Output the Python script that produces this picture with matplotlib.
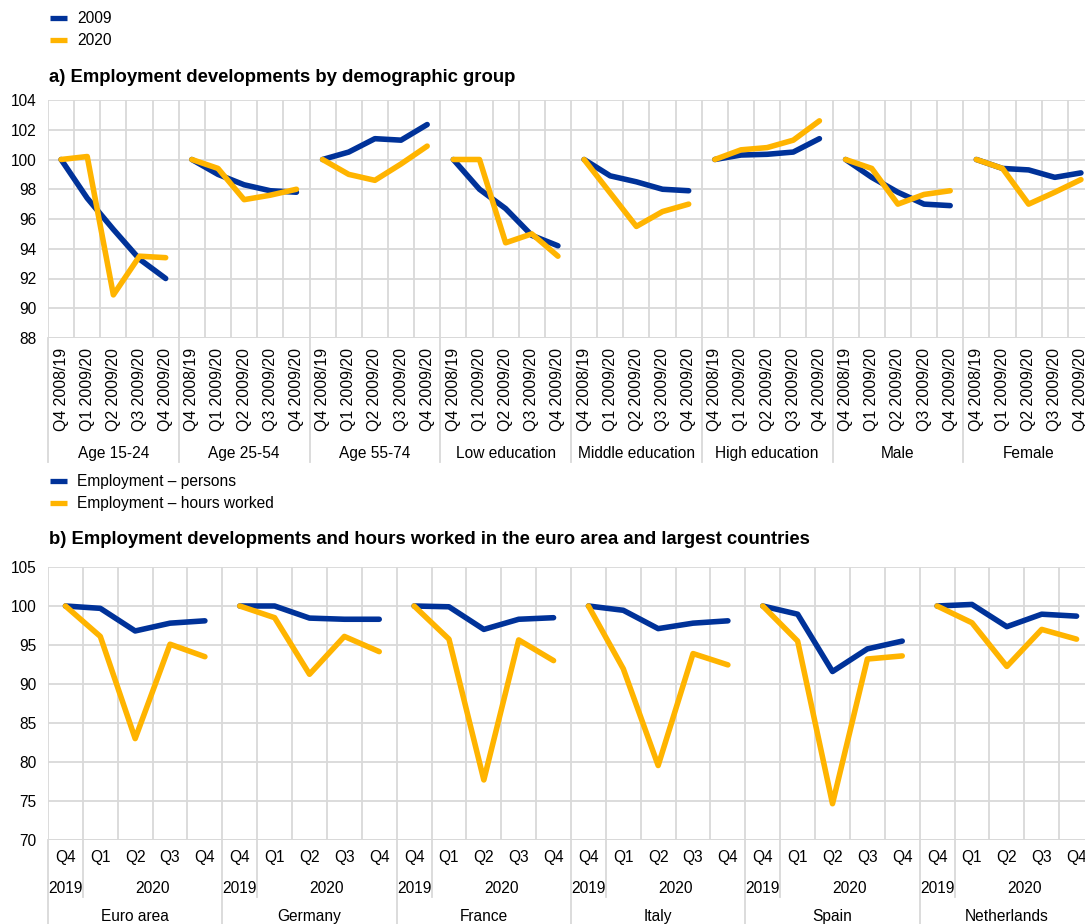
import numpy as np
import matplotlib
matplotlib.use("Agg")
import matplotlib.pyplot as plt
from matplotlib.lines import Line2D

plt.rcParams['font.family'] = ['Liberation Sans', 'DejaVu Sans']

# ---------------- data ----------------
groups_a = ["Age 15-24", "Age 25-54", "Age 55-74", "Low education",
            "Middle education", "High education", "Male", "Female"]
ticks_a = ["Q4 2008/19", "Q1 2009/20", "Q2 2009/20", "Q3 2009/20", "Q4 2009/20"]
a_2009 = [
    [100, 97.4, 95.3, 93.3, 92.0],
    [100, 99.0, 98.3, 97.9, 97.8],
    [100, 100.5, 101.4, 101.3, 102.35],
    [100, 98.0, 96.7, 94.9, 94.2],
    [100, 98.9, 98.5, 98.0, 97.9],
    [100, 100.3, 100.35, 100.5, 101.4],
    [100, 98.8, 97.8, 97.0, 96.9],
    [100, 99.4, 99.3, 98.8, 99.1],
]
a_2020 = [
    [100, 100.2, 90.9, 93.5, 93.4],
    [100, 99.4, 97.3, 97.6, 98.0],
    [100, 99.0, 98.6, 99.7, 100.9],
    [100, 100.0, 94.4, 95.0, 93.5],
    [100, 97.75, 95.5, 96.5, 97.0],
    [100, 100.65, 100.8, 101.3, 102.6],
    [100, 99.4, 97.0, 97.65, 97.9],
    [100, 99.4, 97.0, 97.8, 98.65],
]

countries_b = ["Euro area", "Germany", "France", "Italy", "Spain", "Netherlands"]
quarters_b = ["Q4", "Q1", "Q2", "Q3", "Q4"]
years_b = ["2019", "2020"]
b_persons = [
    [100, 99.7, 96.8, 97.8, 98.1],
    [100, 100.0, 98.45, 98.3, 98.3],
    [100, 99.9, 97.0, 98.3, 98.5],
    [100, 99.45, 97.1, 97.8, 98.1],
    [100, 98.95, 91.6, 94.5, 95.5],
    [100, 100.2, 97.35, 98.95, 98.7],
]
b_hours = [
    [100, 96.1, 83.0, 95.1, 93.5],
    [100, 98.5, 91.25, 96.1, 94.15],
    [100, 95.75, 77.7, 95.65, 93.0],
    [100, 91.95, 79.55, 93.9, 92.45],
    [100, 95.5, 74.65, 93.2, 93.6],
    [100, 97.85, 92.25, 97.0, 95.75],
]

BLUE = "#003299"
YELLOW = "#FFB400"
GRID = "#D9D9D9"
FS = 11.2
FS_ROT = 11.4
FS_TITLE = 13.3
LW = 4.0

W, H = 1085, 924
fig = plt.figure(figsize=(W / 100, H / 100), dpi=100)


def fx(px):
    return px / W


def fy(px):
    return 1 - px / H


LEFT, RIGHT = 48, 1094


def make_axes(top, bottom):
    ax = fig.add_axes([fx(LEFT), fy(bottom), fx(RIGHT - LEFT), (bottom - top) / H])
    for s in ax.spines.values():
        s.set_visible(False)
    return ax


def style(ax, n, ylim, yticks):
    ax.set_xlim(-0.5, n - 0.5)
    ax.set_ylim(*ylim)
    ax.set_yticks(yticks)
    ax.set_yticklabels([str(v) for v in yticks], fontsize=FS)
    ax.tick_params(axis='y', length=0, pad=8.5)
    ax.set_xticks(np.arange(n - 1) + 0.5, minor=True)
    ax.grid(True, which='major', axis='y', color=GRID, lw=1.3)
    ax.grid(True, which='minor', axis='x', color=GRID, lw=1.3)
    ax.tick_params(axis='x', which='both', length=0)
    ax.axvline(-0.5, color=GRID, lw=1.3)
    ax.axhline(ylim[0], color=GRID, lw=1.3)
    ax.set_axisbelow(True)


def seps(ax, xs, depth_px, hpx):
    for x in xs:
        ax.plot([x, x], [0, -depth_px / hpx], color=GRID, lw=1.3,
                transform=ax.get_xaxis_transform(), clip_on=False)


def legend(labels, top_px):
    hs = [Line2D([], [], color=BLUE, lw=3.8, solid_capstyle='butt'),
          Line2D([], [], color=YELLOW, lw=3.8, solid_capstyle='butt')]
    fig.legend(hs, labels, loc='upper left', bbox_to_anchor=(fx(50), fy(top_px)),
               frameon=False, fontsize=FS, handlelength=1.09, handletextpad=0.64,
               labelspacing=0.45, borderaxespad=0, borderpad=0)


# ---------------- legend / title a ----------------
legend(["2009", "2020"], 11)
fig.text(fx(49), fy(77), "a) Employment developments by demographic group",
         fontsize=FS_TITLE, fontweight='bold', va='center', ha='left')

# ---------------- panel a ----------------
topA, botA = 100, 338
hA_px = botA - topA
axA = make_axes(topA, botA)
nA = len(groups_a) * 5
style(axA, nA, (88, 104), list(range(88, 105, 2)))
for g in range(len(groups_a)):
    xs = np.arange(5) + g * 5
    axA.plot(xs, a_2009[g], color=BLUE, lw=LW, solid_capstyle='round',
             solid_joinstyle='round', zorder=3)
    axA.plot(xs, a_2020[g], color=YELLOW, lw=LW, solid_capstyle='round',
             solid_joinstyle='round', zorder=4)
axA.set_xticks(np.arange(nA))
axA.set_xticklabels(ticks_a * len(groups_a), rotation=90, fontsize=FS_ROT,
                    va='top', ha='center')
axA.tick_params(axis='x', pad=7)
seps(axA, [g * 5 - 0.5 for g in range(len(groups_a) + 1)], 124, hA_px)
for g, name in enumerate(groups_a):
    axA.text(g * 5 + 2, -(452 - botA) / hA_px, name, fontsize=FS, ha='center',
             va='center_baseline', transform=axA.get_xaxis_transform())

# ---------------- legend / title b ----------------
legend(["Employment \u2013 persons", "Employment \u2013 hours worked"], 474)
fig.text(fx(49), fy(540),
         "b) Employment developments and hours worked in the euro area and largest countries",
         fontsize=FS_TITLE, fontweight='bold', va='center', ha='left')

# ---------------- panel b ----------------
topB, botB = 567, 840
hB_px = botB - topB
axB = make_axes(topB, botB)
nB = len(countries_b) * 5
style(axB, nB, (70, 105), list(range(70, 106, 5)))
for g in range(len(countries_b)):
    xs = np.arange(5) + g * 5
    axB.plot(xs, b_persons[g], color=BLUE, lw=LW, solid_capstyle='round',
             solid_joinstyle='round', zorder=3)
    axB.plot(xs, b_hours[g], color=YELLOW, lw=LW, solid_capstyle='round',
             solid_joinstyle='round', zorder=4)
axB.set_xticks(np.arange(nB))
axB.set_xticklabels(quarters_b * len(countries_b), fontsize=FS)
axB.tick_params(axis='x', pad=7.5)
seps(axB, [g * 5 - 0.5 for g in range(len(countries_b) + 1)], 90, hB_px)
seps(axB, [g * 5 + 0.5 for g in range(len(countries_b))], 57, hB_px)
tr = axB.get_xaxis_transform()
for g, name in enumerate(countries_b):
    axB.text(g * 5, -(887 - botB) / hB_px, years_b[0], fontsize=FS, ha='center',
             va='center_baseline', transform=tr)
    axB.text(g * 5 + 2.5, -(887 - botB) / hB_px, years_b[1], fontsize=FS,
             ha='center', va='center_baseline', transform=tr)
    axB.text(g * 5 + 2, -(915 - botB) / hB_px, name, fontsize=FS, ha='center',
             va='center_baseline', transform=tr)

fig.savefig("out.png", dpi=100)
